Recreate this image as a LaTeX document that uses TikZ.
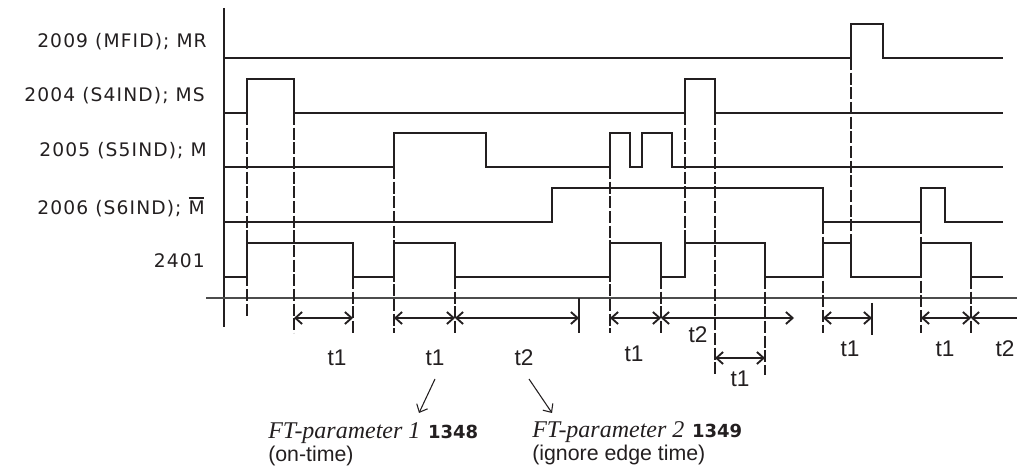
\documentclass[tikz,border=0pt]{standalone}
\usepackage{fontspec}
\setmainfont{DejaVu Sans}
\newfontfamily\labfont[LetterSpace=6]{DejaVu Sans}
\newfontfamily\tfont{Liberation Sans}
\newfontfamily\ftserif{Liberation Serif}
\newfontfamily\ftbold{DejaVu Sans}
\usetikzlibrary{arrows.meta}
\definecolor{ink}{HTML}{231F20}
\newcommand\ovM{\setbox0\hbox{M}\rlap{\rule[\dimexpr\ht0+1.8pt\relax]{\dimexpr\wd0-0.8pt\relax}{1.4pt}}M}
\begin{document}
\begin{tikzpicture}[x=0.75pt,y=-0.75pt,
  sig/.style={draw=ink,line width=1.6pt,line join=miter},
  axis/.style={draw=ink,line width=1.5pt},
  haxis/.style={draw=black!70,line width=1.2pt},
  guide/.style={draw=ink,line width=1.3pt,dash pattern=on 9pt off 2pt},
  endtick/.style={draw=ink,line width=1.3pt},
  dim/.style={draw=ink,line width=1.4pt,{Straight Barb[length=5pt,width=9pt]}-{Straight Barb[length=5pt,width=9pt]}},
  ldim/.style={draw=ink,line width=1.4pt,{Straight Barb[length=5pt,width=9pt]}-},
  ptr/.style={draw=ink,line width=0.8pt,-{Straight Barb[length=5pt,width=9pt]}},
  lab/.style={anchor=base east,inner sep=0pt,text=ink,font=\labfont\fontsize{14}{16}\selectfont},
  tl/.style={inner sep=0pt,text=ink,font=\tfont\fontsize{17}{19}\selectfont},
  ftl/.style={anchor=base west,inner sep=0pt,text=ink,font=\fontsize{18}{20}\selectfont},
  ftsub/.style={anchor=base west,inner sep=0pt,text=ink,font=\tfont\fontsize{16}{18}\selectfont}
]
\clip (0,0) rectangle (1017,473);

% axes
\draw[axis] (224,8) -- (224,327);
\draw[haxis] (206,298) -- (1017,298);

% guide lines (dashed)
\draw[guide] (247,113) -- (247,317);
\draw[guide] (294,113) -- (294,333);
\draw[guide] (353,277) -- (353,333);
\draw[guide] (394,167) -- (394,333);
\draw[guide] (455,277) -- (455,333);
\draw[guide] (610,167) -- (610,333);
\draw[guide] (661,277) -- (661,333);
\draw[guide] (685,113) -- (685,243);
\draw[guide] (715,113) -- (715,375);
\draw[guide] (765,277) -- (765,375);
\draw[guide] (823,222) -- (823,333);
\draw[guide] (851,58) -- (851,243);
\draw[guide] (921,222) -- (921,333);
\draw[guide] (971,277) -- (971,333);
\draw[endtick] (579,298) -- (579,333);
\draw[endtick] (872,303) -- (872,335);

% signals
\draw[sig] (224,58) -- (851,58) -- (851,24) -- (883,24) -- (883,58) -- (1003,58);
\draw[sig] (224,113) -- (247,113) -- (247,79) -- (294,79) -- (294,113) -- (685,113) -- (685,79) -- (715,79) -- (715,113) -- (1003,113);
\draw[sig] (224,167) -- (394,167) -- (394,133) -- (486,133) -- (486,167) -- (610,167) -- (610,133) -- (630,133) -- (630,167) -- (642,167) -- (642,133) -- (672,133) -- (672,167) -- (1003,167);
\draw[sig] (224,222) -- (552,222) -- (552,188) -- (823,188) -- (823,222) -- (921,222) -- (921,188) -- (945,188) -- (945,222) -- (1003,222);
\draw[sig] (224,277) -- (247,277) -- (247,243) -- (353,243) -- (353,277) -- (394,277) -- (394,243) -- (455,243) -- (455,277) -- (610,277) -- (610,243) -- (661,243) -- (661,277) -- (685,277) -- (685,243) -- (765,243) -- (765,277) -- (823,277) -- (823,243) -- (851,243) -- (851,277) -- (921,277) -- (921,243) -- (971,243) -- (971,277) -- (1003,277);

% signal labels
\node[lab] (lMR) at (207,48) {2009 (MFID); MR};
\node[lab] (lMS) at (205,102) {2004 (S4IND); MS};
\node[lab] (lM) at (207,157) {2005 (S5IND); M};
\node[lab] (lMb) at (205,215) {2006 (S6IND); \ovM};
\node[lab] (l2401) at (205,268) {2401};

% dimension arrow end points
\coordinate (a294) at (294,318);
\coordinate (a353) at (353,318);
\coordinate (a394) at (394,318);
\coordinate (a455) at (455,318);
\coordinate (a579) at (579,318);
\coordinate (a610) at (610,318);
\coordinate (a661) at (661,318);
\coordinate (a794) at (794,318);
\coordinate (a823) at (823,318);
\coordinate (a872) at (872,318);
\coordinate (a921) at (921,318);
\coordinate (a971) at (971,318);
\coordinate (aout) at (1040,318);
\coordinate (b715) at (715,358);
\coordinate (b765) at (765,358);

\draw[dim] (a294) -- (a353);
\draw[dim] (a394) -- (a455);
\draw[dim] (a455) -- (a579);
\draw[dim] (a610) -- (a661);
\draw[dim] (a661) -- (a794);
\draw[dim] (a823) -- (a872);
\draw[dim] (a921) -- (a971);
\draw[ldim] (a971) -- (aout);
\draw[dim] (b715) -- (b765);

% time labels
\node[tl] (t1a) at (337,358) {t1};
\node[tl] (t1b) at (435,358) {t1};
\node[tl] (t2a) at (524,358) {t2};
\node[tl] (t1c) at (634,354) {t1};
\node[tl] (t2b) at (698,335) {t2};
\node[tl] (t1d) at (740,379) {t1};
\node[tl] (t1e) at (850,349) {t1};
\node[tl] (t1f) at (945,349) {t1};
\node[tl] (t2c) at (1005,349) {t2};

% parameter notes
\node[ftl] (ft1) at (268,439) {{\ftserif\itshape FT-parameter 1} {\ftbold\bfseries\fontsize{13.5}{16}\selectfont 1348}};
\node[ftsub] (ft1s) at (268,462) {(on-time)};
\node[ftl] (ft2) at (532,438) {{\ftserif\itshape FT-parameter 2} {\ftbold\bfseries\fontsize{13.5}{16}\selectfont 1349}};
\node[ftsub] (ft2s) at (532,461) {(ignore edge time)};

\coordinate (p1s) at (435,379);
\coordinate (p1e) at (419,413);
\coordinate (p2s) at (529,379);
\coordinate (p2e) at (552,413);
\draw[ptr] (p1s) -- (p1e);
\draw[ptr] (p2s) -- (p2e);
\end{tikzpicture}
\end{document}
